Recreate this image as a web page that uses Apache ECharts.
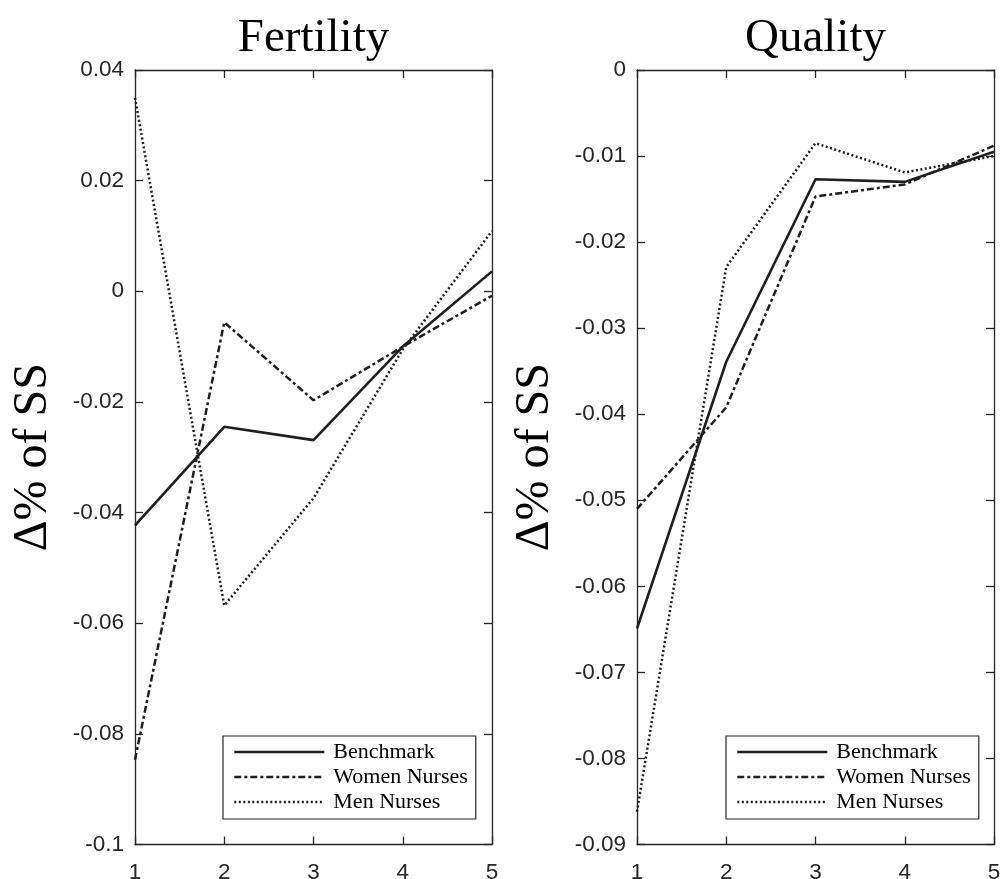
<!DOCTYPE html>
<html>
<head>
<meta charset="utf-8">
<script src="https://cdn.jsdelivr.net/npm/echarts@6/dist/echarts.min.js"></script>
<style>
  html, body { margin: 0; padding: 0; background: #fff; }
  #chart { width: 1000px; height: 879px; }
</style>
</head>
<body>
<div id="chart"></div>
<script>
// periods on the x axis
const periods = [1, 2, 3, 4, 5];
const seriesNames = ['Benchmark', 'Women Nurses', 'Men Nurses'];

// Fertility panel
const fertBenchmark = [-0.0423, -0.0245, -0.0269, -0.0100, 0.0036];
const fertWomen = [-0.0847, -0.0056, -0.0197, -0.0100, -0.0008];
const fertMen = [0.0350, -0.0568, -0.0374, -0.0105, 0.0109];
const fertTicks = [-0.1, -0.08, -0.06, -0.04, -0.02, 0, 0.02, 0.04];

// Quality panel
const qualBenchmark = [-0.0649, -0.0339, -0.0127, -0.0130, -0.0095];
const qualWomen = [-0.0510, -0.0392, -0.0147, -0.0133, -0.0088];
const qualMen = [-0.0862, -0.0229, -0.0085, -0.0119, -0.0100];
const qualTicks = [-0.09, -0.08, -0.07, -0.06, -0.05, -0.04, -0.03, -0.02, -0.01, 0];

const axisColor = '#262626';
const lineColor = '#1f1f1f';
const serif = '"Liberation Serif", "DejaVu Serif", serif';
const sans = '"Liberation Sans", Arial, sans-serif';

const lineStyles = [
    { width: 2.6, type: 'solid' },
    { width: 2.5, type: [7, 3, 3, 3] },
    { width: 2.5, type: [2, 2.5] }
];

function toPoints(values) {
    return periods.map((p, i) => [p, values[i]]);
}

function xAxes(gridIndex) {
    const base = {
        gridIndex: gridIndex,
        type: 'value',
        min: 1,
        max: 5,
        interval: 1,
        splitLine: { show: false },
        axisLine: { onZero: false, lineStyle: { color: axisColor, width: 1.3 } },
        axisTick: { inside: true, length: 8, lineStyle: { color: axisColor, width: 1.3 } }
    };
    return [
        Object.assign({}, base, {
            position: 'bottom',
            axisLabel: { fontFamily: sans, fontSize: 22.5, color: axisColor, margin: 17 }
        }),
        Object.assign({}, base, { position: 'top', axisLabel: { show: false } })
    ];
}

function yAxes(gridIndex, ticks) {
    const base = {
        gridIndex: gridIndex,
        type: 'value',
        min: ticks[0],
        max: ticks[ticks.length - 1],
        interval: +(ticks[1] - ticks[0]).toFixed(4),
        splitLine: { show: false },
        axisLine: { onZero: false, lineStyle: { color: axisColor, width: 1.3 } },
        axisTick: { inside: true, length: 8, lineStyle: { color: axisColor, width: 1.3 } }
    };
    return [
        Object.assign({}, base, {
            position: 'left',
            name: 'Δ% of SS',
            nameLocation: 'middle',
            nameRotate: 90,
            nameGap: 78,
            nameTextStyle: { fontFamily: serif, fontSize: 48, color: '#000' },
            axisLabel: {
                fontFamily: sans, fontSize: 22.5, color: axisColor, margin: 11,
                formatter: v => String(+v.toFixed(3))
            }
        }),
        Object.assign({}, base, { position: 'right', axisLabel: { show: false } })
    ];
}

function panelSeries(gridIndex, groups) {
    return groups.map((vals, i) => ({
        name: seriesNames[i],
        type: 'line',
        xAxisIndex: gridIndex * 2,
        yAxisIndex: gridIndex * 2,
        data: toPoints(vals),
        symbol: 'none',
        showSymbol: false,
        animation: false,
        color: lineColor,
        lineStyle: Object.assign({ color: lineColor }, lineStyles[i])
    }));
}

function legendBox(left) {
    return {
        data: seriesNames,
        orient: 'vertical',
        left: left,
        top: 736,
        itemWidth: 90,
        itemHeight: 14,
        itemGap: 3,
        padding: [5, 8, 6, 10],
        backgroundColor: '#fff',
        borderColor: axisColor,
        borderWidth: 1.2,
        borderRadius: 0,
        selectedMode: false,
        itemStyle: { opacity: 0 },
        lineStyle: { width: 2.6 },
        textStyle: {
            fontFamily: serif, fontSize: 22, color: '#000',
            lineHeight: 22, padding: [0, 0, 0, 4]
        }
    };
}

const chart = echarts.init(document.getElementById('chart'));
chart.setOption({
    backgroundColor: '#fff',
    animation: false,
    title: [
        {
            text: 'Fertility', left: 313.5, textAlign: 'center', top: 15, padding: 0,
            textStyle: { fontFamily: serif, fontSize: 47, fontWeight: 'normal', color: '#000' }
        },
        {
            text: 'Quality', left: 815.5, textAlign: 'center', top: 15, padding: 0,
            textStyle: { fontFamily: serif, fontSize: 47, fontWeight: 'normal', color: '#000' }
        }
    ],
    legend: [legendBox(223), legendBox(726)],
    grid: [
        { left: 135, right: 508, top: 70, bottom: 34.5, outerBoundsMode: 'none' },
        { left: 637, right: 6, top: 70, bottom: 34.5, outerBoundsMode: 'none' }
    ],
    xAxis: xAxes(0).concat(xAxes(1)),
    yAxis: yAxes(0, fertTicks).concat(yAxes(1, qualTicks)),
    series: panelSeries(0, [fertBenchmark, fertWomen, fertMen])
        .concat(panelSeries(1, [qualBenchmark, qualWomen, qualMen]))
});
</script>
</body>
</html>
